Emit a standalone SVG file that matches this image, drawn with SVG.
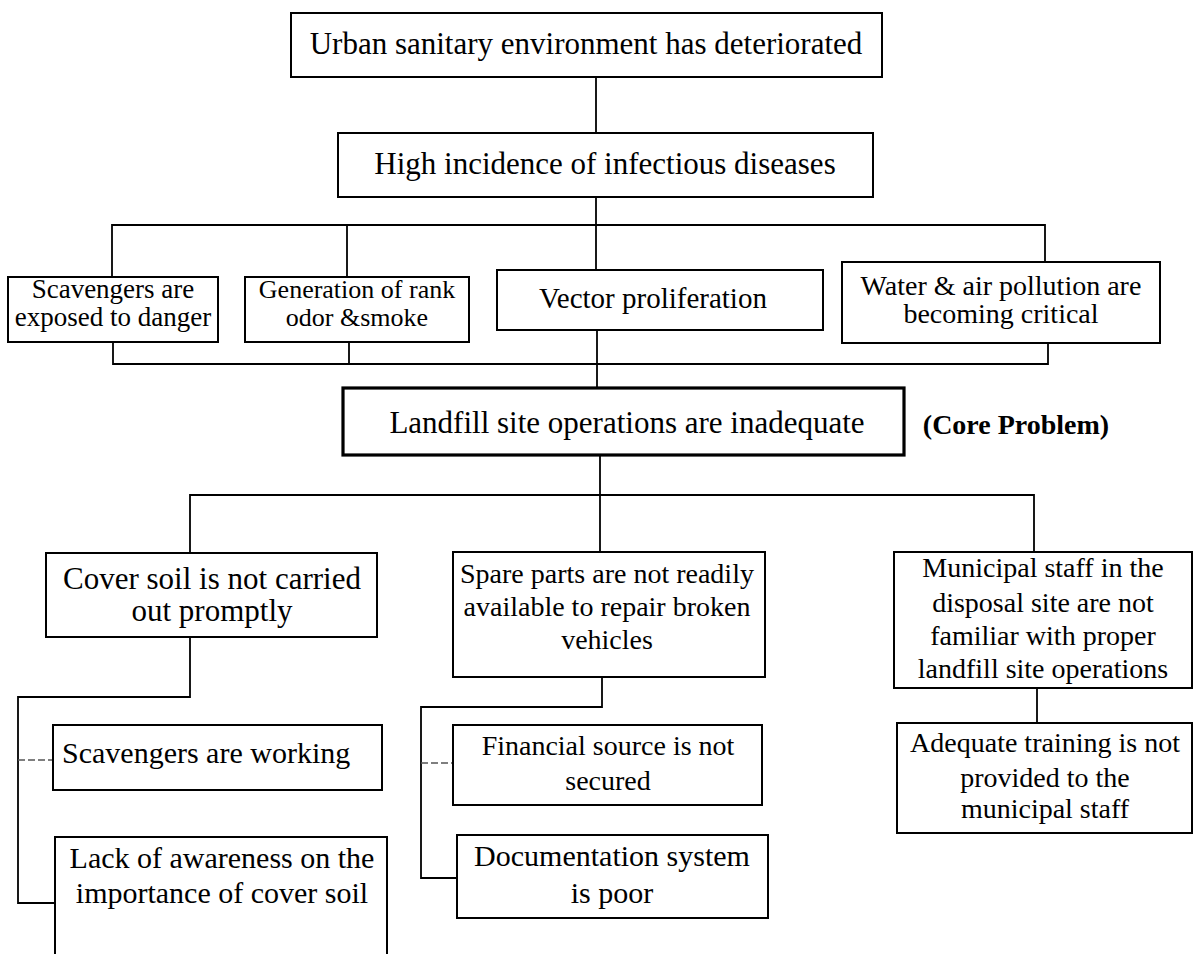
<svg xmlns="http://www.w3.org/2000/svg" width="1202" height="954" viewBox="0 0 1202 954">
<style>
  .box { fill: #fff; stroke: #000; stroke-width: 2; }
  .core { fill: #fff; stroke: #000; stroke-width: 3.2; }
  .t { font-family: "Liberation Serif", "Times New Roman", serif; fill: #000; text-anchor: middle; }
  .tl { font-family: "Liberation Serif", "Times New Roman", serif; fill: #000; }
  .conn { fill: none; stroke: #000; stroke-width: 1.8; }
  .tick { fill: none; stroke: #555; stroke-width: 1.3; stroke-dasharray: 7 3; }
</style>
<rect width="1202" height="954" fill="#fff"/>
<g id="connectors">
  <path class="conn" d="M596 77 V133"/>
  <path class="conn" d="M596 197 V270"/>
  <path class="conn" d="M112 277 V225 H1045 V262"/>
  <path class="conn" d="M347 225 V277"/>
  <path class="conn" d="M113 342 V364 H1048 V343"/>
  <path class="conn" d="M349 342 V364"/>
  <path class="conn" d="M597 330 V388"/>
  <path class="conn" d="M600 455 V552"/>
  <path class="conn" d="M190 553 V495 H1034 V552"/>
  <path class="conn" d="M190 637 V697 H18 V903 H55"/>
  <path class="tick" d="M18 760 H53"/>
  <path class="conn" d="M602 677 V707 H421 V878 H457"/>
  <path class="tick" d="M421 763 H453"/>
  <path class="conn" d="M1037 688 V723"/>
</g>
<g id="n-urban">
  <rect class="box" x="291" y="13" width="591" height="64"/>
  <text class="t" x="586" y="54" font-size="31">Urban sanitary environment has deteriorated</text>
</g>
<g id="n-disease">
  <rect class="box" x="338" y="133" width="535" height="64"/>
  <text class="t" x="605" y="174" font-size="31">High incidence of infectious diseases</text>
</g>
<g id="n-scav-danger">
  <rect class="box" x="8" y="277" width="210" height="65"/>
  <text class="t" x="113" y="298" font-size="27">Scavengers are</text>
  <text class="t" x="113" y="326" font-size="27">exposed to danger</text>
</g>
<g id="n-odor">
  <rect class="box" x="245" y="277" width="224" height="65"/>
  <text class="t" x="357" y="298" font-size="26">Generation of rank</text>
  <text class="t" x="357" y="326" font-size="26">odor &amp;smoke</text>
</g>
<g id="n-vector">
  <rect class="box" x="497" y="270" width="326" height="60"/>
  <text class="t" x="653" y="308" font-size="29">Vector proliferation</text>
</g>
<g id="n-water">
  <rect class="box" x="842" y="262" width="318" height="81"/>
  <text class="t" x="1001" y="295" font-size="28">Water &amp; air pollution are</text>
  <text class="t" x="1001" y="323" font-size="28">becoming critical</text>
</g>
<g id="n-core">
  <rect class="core" x="343" y="388" width="561" height="67"/>
  <text class="t" x="627" y="433" font-size="31">Landfill site operations are inadequate</text>
  <text class="t" x="1016" y="434" font-size="28" font-weight="bold">(Core Problem)</text>
</g>
<g id="n-cover">
  <rect class="box" x="46" y="553" width="331" height="84"/>
  <text class="t" x="212" y="589" font-size="31">Cover soil is not carried</text>
  <text class="t" x="212" y="621" font-size="31">out promptly</text>
</g>
<g id="n-scav-working">
  <rect class="box" x="53" y="725" width="329" height="65"/>
  <text class="tl" x="62" y="763" font-size="30">Scavengers are working</text>
</g>
<g id="n-awareness">
  <rect class="box" x="55" y="837" width="332" height="130"/>
  <text class="t" x="222" y="868" font-size="30">Lack of awareness on the</text>
  <text class="t" x="222" y="903" font-size="30">importance of cover soil</text>
</g>
<g id="n-spare">
  <rect class="box" x="453" y="552" width="312" height="125"/>
  <text class="t" x="607" y="583" font-size="28">Spare parts are not readily</text>
  <text class="t" x="607" y="616" font-size="28">available to repair broken</text>
  <text class="t" x="607" y="649" font-size="28">vehicles</text>
</g>
<g id="n-financial">
  <rect class="box" x="453" y="725" width="309" height="80"/>
  <text class="t" x="608" y="755" font-size="28">Financial source is not</text>
  <text class="t" x="608" y="790" font-size="28">secured</text>
</g>
<g id="n-doc">
  <rect class="box" x="457" y="835" width="311" height="83"/>
  <text class="t" x="612" y="866" font-size="30">Documentation system</text>
  <text class="t" x="612" y="903" font-size="30">is poor</text>
</g>
<g id="n-municipal">
  <rect class="box" x="894" y="552" width="298" height="136"/>
  <text class="t" x="1043" y="577" font-size="28">Municipal staff in the</text>
  <text class="t" x="1043" y="612" font-size="28">disposal site are not</text>
  <text class="t" x="1043" y="645" font-size="28">familiar with proper</text>
  <text class="t" x="1043" y="678" font-size="28">landfill site operations</text>
</g>
<g id="n-training">
  <rect class="box" x="897" y="723" width="295" height="110"/>
  <text class="t" x="1045" y="752" font-size="28">Adequate training is not</text>
  <text class="t" x="1045" y="787" font-size="28">provided to the</text>
  <text class="t" x="1045" y="818" font-size="28">municipal staff</text>
</g>
</svg>
